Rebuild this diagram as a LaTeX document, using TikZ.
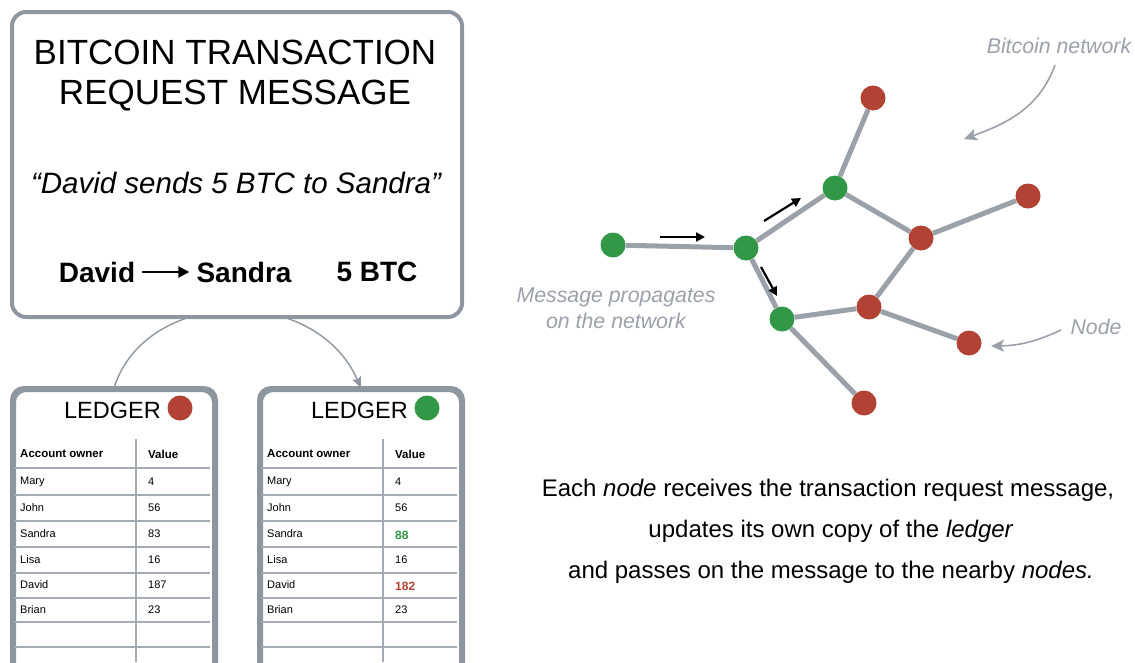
\documentclass[tikz,border=0pt]{standalone}
\usepackage{fontspec}
\setmainfont{Liberation Sans}
\usetikzlibrary{arrows.meta}
\definecolor{boxgray}{RGB}{142,150,160}
\definecolor{edgegray}{RGB}{155,161,169}
\definecolor{labgray}{RGB}{155,160,170}
\definecolor{nred}{RGB}{178,66,52}
\definecolor{ngreen}{RGB}{50,152,72}
\newcommand{\fsz}[1]{\fontsize{#1}{#1}\selectfont}
\tikzset{
  frame/.style={draw=boxgray, line width=4, rounded corners=14, fill=white},
  ledgerbox/.style={draw=boxgray, line width=4, rounded corners=12, fill=white, anchor=north west, minimum width=200, minimum height=300},
  tline/.style={draw=boxgray!80, line width=1.3},
  cell/.style={anchor=west, inner sep=0, font=\fsz{11}},
  hcell/.style={anchor=west, inner sep=0, font=\fsz{11.5}\bfseries},
  net/.style={circle, minimum size=25, inner sep=0},
  rnode/.style={net, fill=nred},
  gnode/.style={net, fill=ngreen},
  edge/.style={draw=edgegray, line width=5},
  flow/.style={line width=2.2, -{Triangle[length=9,width=9]}},
  glab/.style={text=labgray, font=\fsz{21.3}\itshape, inner sep=0},
  garrow/.style={draw=labgray, line width=1.6, -{Stealth[length=13,width=12,inset=3]}},
  caption/.style={font=\fsz{24}, inner sep=0},
}
\begin{document}
\begin{tikzpicture}[x=1pt,y=-1pt]
\useasboundingbox (0,0) rectangle (1135,662);
\clip (0,0) rectangle (1135,662);

% ledgers
\node[ledgerbox] (L1) at (12,388) {};
\node[ledgerbox] (L2) at (259,388) {};

% arc connector behind the message box
\draw[draw=boxgray, line width=1.4, -{Stealth[length=11,width=9,inset=2]}] (L1.north) .. controls (145,288) and (315,283) .. (L2.north);

% message box
\node[frame, minimum width=450, minimum height=305, anchor=north west] (msg) at (10,10) {};
\node[font=\fsz{35}, inner sep=0] (t1) at (235,52) {BITCOIN TRANSACTION};
\node[font=\fsz{35}, inner sep=0] (t2) at (235,96) {REQUEST MESSAGE};
\node[font=\fsz{29.5}\itshape, inner sep=0] (quote) at (236,183) {“David sends 5 BTC to Sandra”};
\node[font=\fsz{28}\bfseries, inner sep=0] (david) at (97,272) {David};
\node[font=\fsz{28}\bfseries, inner sep=0] (sandra) at (244,272) {Sandra};
\node[font=\fsz{28}\bfseries, inner sep=0] (btc) at (377,272) {5 BTC};
\draw[line width=2.6, -{Triangle[length=11,width=11]}, shorten <=7, shorten >=7] (david.east) -- (sandra.west);

% ledger contents
\foreach \lx/\vx/\dot/\nm in {12/136/nred/A, 259/383/ngreen/B}{
  \node[font=\fsz{23.5}, inner sep=0, anchor=east] (led\nm) at (\lx+149,410) {LEDGER};
  \node[net, fill=\dot, minimum size=25] (dot\nm) at (\lx+168,408) {};
  \draw[tline] (\vx,439) -- (\vx,662);
  \foreach \yy in {468,495,521,547,573,598,622,647}{
    \draw[tline] (\lx+2,\yy) -- (\lx+198,\yy);
  }
  \node[hcell] (ho\nm) at (\lx+8,454) {Account owner};
  \node[hcell] (hv\nm) at (\vx+12,454) {Value};
  \node[cell] (n1\nm) at (\lx+8,482) {Mary};
  \node[cell] (n2\nm) at (\lx+8,508) {John};
  \node[cell] (n3\nm) at (\lx+8,534) {Sandra};
  \node[cell] (n4\nm) at (\lx+8,560) {Lisa};
  \node[cell] (n5\nm) at (\lx+8,585) {David};
  \node[cell] (n6\nm) at (\lx+8,610) {Brian};
  \node[cell] (v1\nm) at (\vx+12,482) {4};
  \node[cell] (v2\nm) at (\vx+12,508) {56};
  \node[cell] (v4\nm) at (\vx+12,560) {16};
  \node[cell] (v6\nm) at (\vx+12,610) {23};
}
\node[cell] (v3A) at (148,534) {83};
\node[cell] (v5A) at (148,585) {187};
\node[cell, font=\fsz{12}\bfseries, text=ngreen] (v3B) at (395,535) {88};
\node[cell, font=\fsz{12}\bfseries, text=nred] (v5B) at (395,586) {182};
\draw[boxgray, line width=4, rounded corners=12] (L1.north west) rectangle (L1.south east);
\draw[boxgray, line width=4, rounded corners=12] (L2.north west) rectangle (L2.south east);

% network
\node[gnode] (g1) at (613,245) {};
\node[gnode] (g2) at (746,248) {};
\node[gnode] (g3) at (835,188) {};
\node[gnode] (g4) at (782,319) {};
\node[rnode] (r1) at (873,98) {};
\node[rnode] (r2) at (921,238) {};
\node[rnode] (r3) at (1028,196) {};
\node[rnode] (r4) at (869,307) {};
\node[rnode] (r5) at (969,343) {};
\node[rnode] (r6) at (864,403) {};
\draw[edge] (g1) -- (g2);
\draw[edge] (g2) -- (g3);
\draw[edge] (g2) -- (g4);
\draw[edge] (g3) -- (r1);
\draw[edge] (g3) -- (r2);
\draw[edge] (r2) -- (r3);
\draw[edge] (r2) -- (r4);
\draw[edge] (r4) -- (g4);
\draw[edge] (r4) -- (r5);
\draw[edge] (g4) -- (r6);

% flow arrows
\coordinate (a1s) at (660,237); \coordinate (a1e) at (705,237);
\coordinate (a2s) at (764,221); \coordinate (a2e) at (801,198);
\coordinate (a3s) at (761,267); \coordinate (a3e) at (777,296);
\draw[flow] (a1s) -- (a1e);
\draw[flow] (a2s) -- (a2e);
\draw[flow] (a3s) -- (a3e);

% labels
\node[glab] (bn) at (1059,46) {Bitcoin network};
\coordinate (bns) at (1055,65);
\coordinate (bne) at (964,139);
\draw[garrow] (bns) to[out=-110, in=20] (bne);
\node[glab] (nodelab) at (1096,327) {Node};
\coordinate (nls) at (1061,330);
\coordinate (nle) at (991,346);
\draw[garrow] (nls) to[bend left=12] (nle);
\node[glab] (mp1) at (616,297) {Message propagates};
\node[glab] (mp2) at (616,321) {on the network};

% bottom text
\node[caption] (cap1) at (828,490) {Each \textit{node} receives the transaction request message,};
\node[caption] (cap2) at (831,531) {updates its own copy of the \textit{ledger}};
\node[caption] (cap3) at (831,572) {and passes on the message to the nearby \textit{nodes.}};
\end{tikzpicture}
\end{document}
